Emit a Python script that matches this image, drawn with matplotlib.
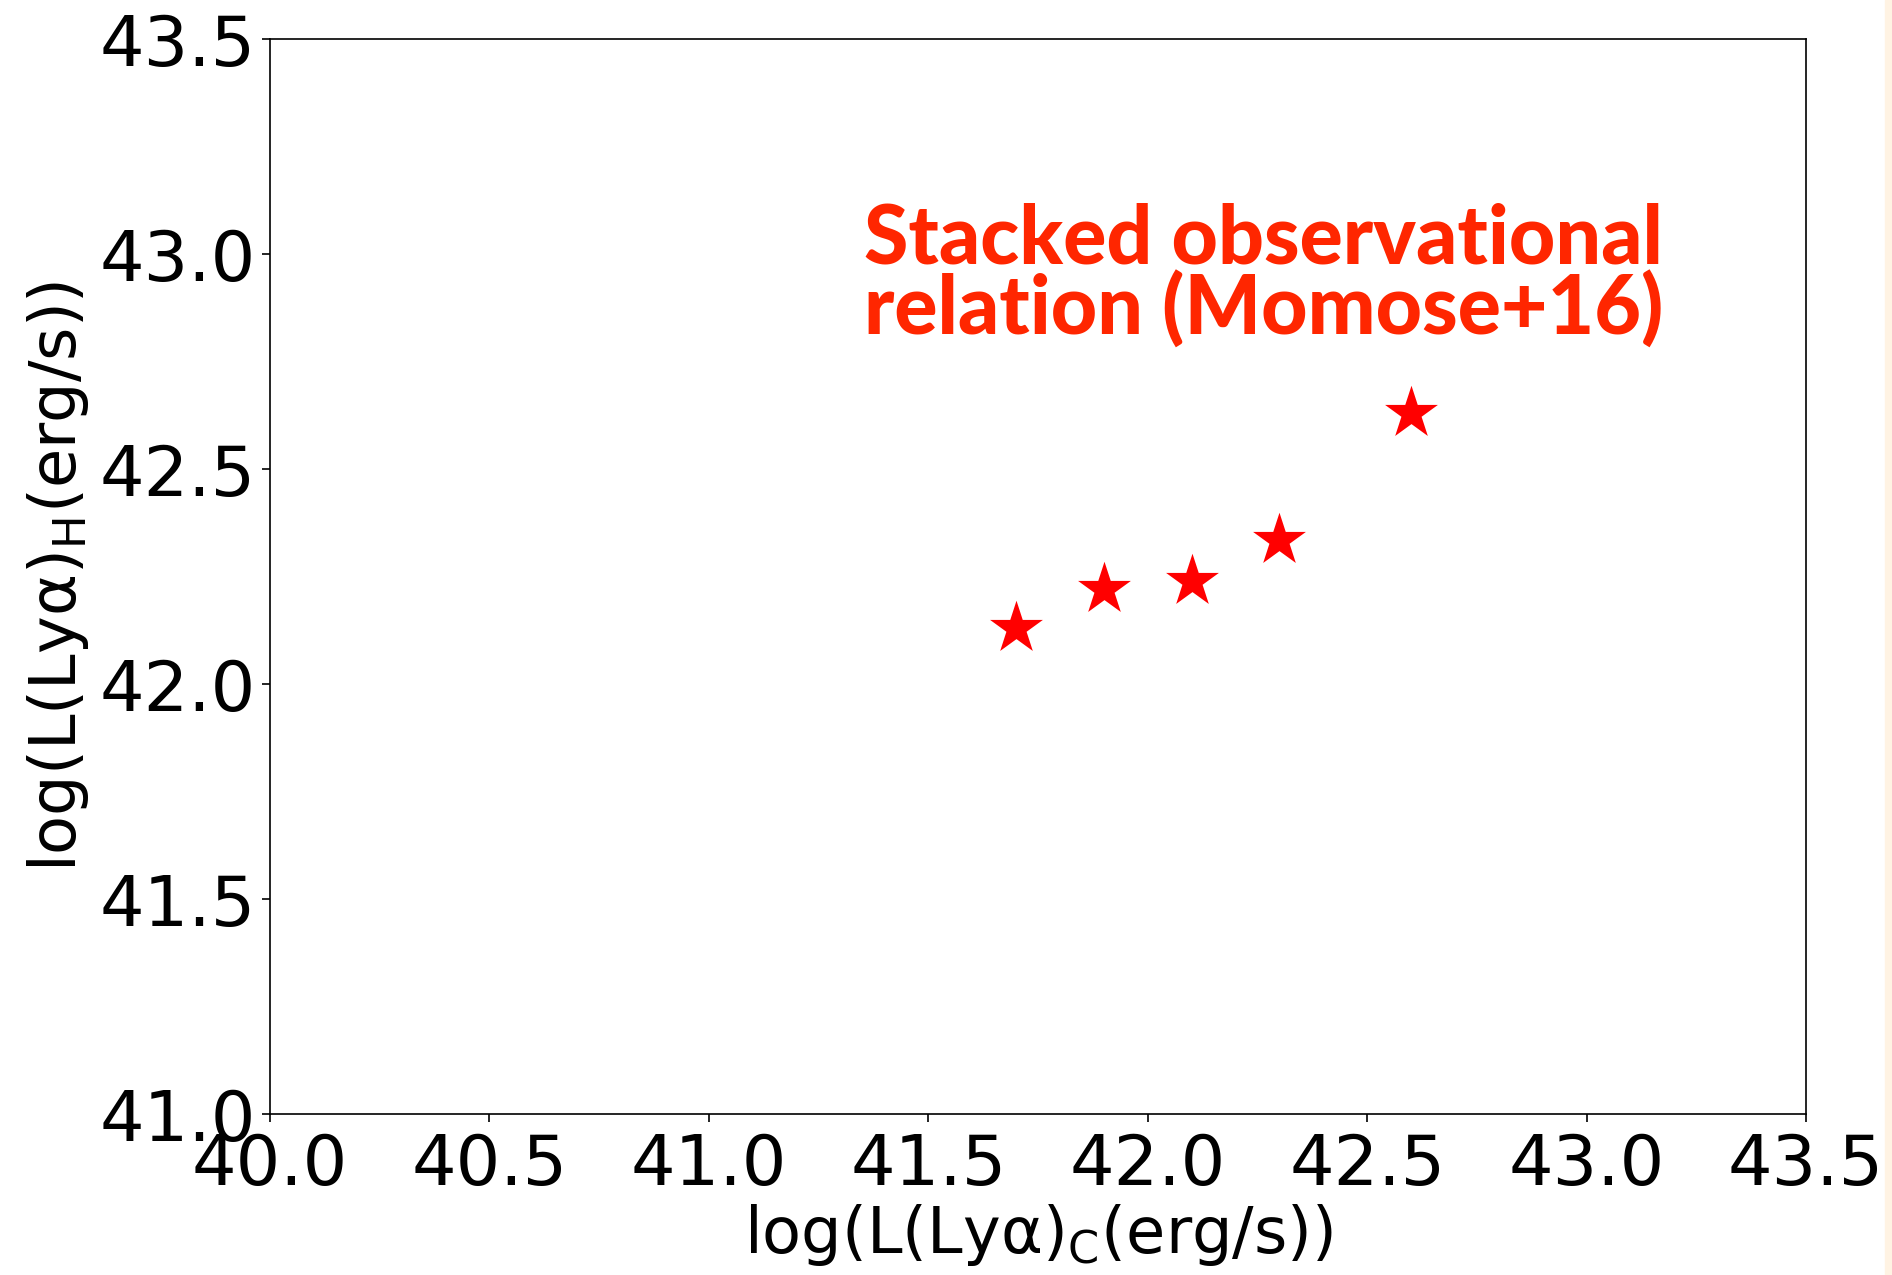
import matplotlib
matplotlib.use('Agg')
import matplotlib.pyplot as plt
from matplotlib.patches import Rectangle

# Momose+16 stacked relation
lya_c = [41.7, 41.9, 42.1, 42.3, 42.6]
lya_h = [42.13, 42.22, 42.24, 42.335, 42.63]
xticks = [40.0, 40.5, 41.0, 41.5, 42.0, 42.5, 43.0, 43.5]
yticks = [41.0, 41.5, 42.0, 42.5, 43.0, 43.5]
note_lines = ['Stacked observational', 'relation (Momose+16)']

W, H = 1892, 1275
fig = plt.figure(figsize=(W/100, H/100), dpi=100)
ax = fig.add_axes([270/W, 1 - 1114/H, 1536/W, 1075/H])

ax.scatter(lya_c, lya_h, marker='*', s=40**2, color='red', linewidths=0, zorder=3)

ax.set_xlim(40.0, 43.5); ax.set_ylim(41.0, 43.5)
ax.set_xticks(xticks); ax.set_yticks(yticks)
ax.set_xticklabels([f'{v:.1f}' for v in xticks])
ax.set_yticklabels([f'{v:.1f}' for v in yticks])
ax.tick_params(labelsize=50.5, length=6, width=1.2)
ax.tick_params(axis='x', pad=7)
ax.tick_params(axis='y', pad=4)
for s in ax.spines.values():
    s.set_linewidth(1.2)
ax.set_xlabel(r'log(L(Lyα)$_{\rm C}$(erg/s))', fontsize=46, labelpad=2)
ax.set_ylabel(r'log(L(Lyα)$_{\rm H}$(erg/s))', fontsize=46, labelpad=6)

# slide overlay note
for txt, yb in zip(note_lines, [263, 335]):
    fig.text(864/W, 1 - yb/H, txt, fontsize=58, fontweight='black', family=['Lato', 'DejaVu Sans'],
             color='#ff2600', ha='left', va='baseline')

# slide background strip at the right edge
fig.patches.append(Rectangle((1885/W, 0), 7/W, 1, transform=fig.transFigure, color='#fff3e3', zorder=0))

fig.savefig('out.png', dpi=100)
